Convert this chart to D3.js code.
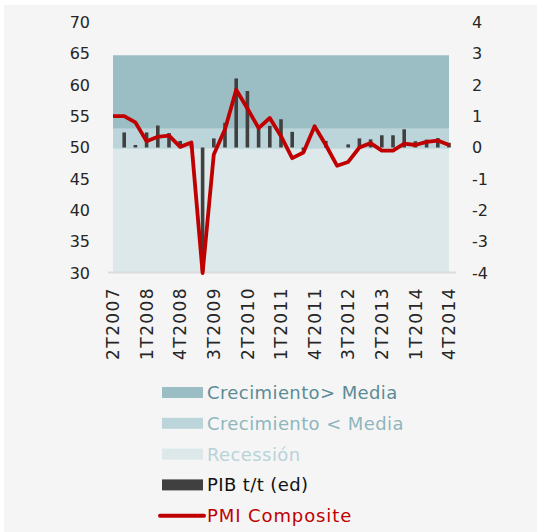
<!DOCTYPE html>
<html><head><meta charset="utf-8">
<script src="https://cdn.jsdelivr.net/npm/d3@7/dist/d3.min.js"></script>
<style>
html,body{margin:0;padding:0;background:#ffffff;}
svg{display:block;}
text{font-family:"DejaVu Sans",sans-serif;}
</style></head>
<body><svg id="c" width="542" height="532"></svg>
<script>
const quarters = ["2T2007","3T2007","4T2007","1T2008","2T2008","3T2008","4T2008","1T2009","2T2009","3T2009","4T2009","1T2010","2T2010","3T2010","4T2010","1T2011","2T2011","3T2011","4T2011","1T2012","2T2012","3T2012","4T2012","1T2013","2T2013","3T2013","4T2013","1T2014","2T2014","3T2014","4T2014"];
const tickLabels = ["2T2007","1T2008","4T2008","3T2009","2T2010","1T2011","4T2011","3T2012","2T2013","1T2014","4T2014"];
const pmi = [55.0,55.0,54.0,51.0,51.7,51.9,50.1,50.8,30.0,48.9,52.9,59.2,56.2,53.1,54.7,51.8,48.3,49.2,53.4,50.4,47.1,47.7,50.0,50.7,49.5,49.5,50.6,50.4,50.9,51.1,50.4];
const pib = [0,0.48,0.08,0.48,0.70,0.46,0.21,0.1,-3.95,0.29,0.79,2.2,1.8,0.65,0.69,0.9,0.5,-0.1,0,0.21,0,0.1,0.29,0.26,0.39,0.39,0.58,0.2,0.25,0.3,0.15];
const leftTicks = [30,35,40,45,50,55,60,65,70];
const rightTicks = [-4,-3,-2,-1,0,1,2,3,4];
const bandNames = ["Recessión","Crecimiento < Media","Crecimiento> Media"];
const bandLimits = [30, 49.8, 53.0, 64.7];
const legendNames = ["Crecimiento> Media","Crecimiento < Media","Recessión","PIB t/t (ed)","PMI Composite"];

const bandColors = {"Recessión":"#dde8ea","Crecimiento < Media":"#bcd5da","Crecimiento> Media":"#9bbdc4"};
const legendText = ["#5b8c96","#8fb6bd","#b8d3d8","#111111","#c00000"];

const svg = d3.select("#c");
svg.append("rect").attr("x",4).attr("y",5).attr("width",533).attr("height",527).attr("fill","#f5f5f5");

const x = d3.scalePoint().domain(quarters).range([113,449]);
const yL = d3.scaleLinear().domain([30,70]).range([273,22]);
const yR = d3.scaleLinear().domain([-4,4]).range([273,22]);

// bands
bandNames.forEach((n,i)=>{
  svg.append("rect").attr("x",x(quarters[0])).attr("width",x(quarters[quarters.length-1])-x(quarters[0]))
    .attr("y",yL(bandLimits[i+1])).attr("height",yL(bandLimits[i])-yL(bandLimits[i+1]))
    .attr("fill",bandColors[n]);
});
// x axis line
svg.append("line").attr("x1",108).attr("x2",456).attr("y1",272.5).attr("y2",272.5)
  .attr("stroke","#dcdcdc").attr("stroke-width",2);

// bars
const bw = 3.6;
svg.selectAll(".bar").data(pib).enter().append("rect")
  .attr("x",(d,i)=>x(quarters[i])-bw/2).attr("width",bw)
  .attr("y",d=>Math.min(yR(d),yR(0))).attr("height",d=>Math.abs(yR(d)-yR(0)))
  .attr("fill","#404040");

// line
svg.append("path").datum(pmi)
  .attr("d",d3.line().x((d,i)=>x(quarters[i])).y(d=>yL(d)))
  .attr("fill","none").attr("stroke","#c00000").attr("stroke-width",3.8).attr("stroke-linejoin","round");

// left axis labels
svg.selectAll(".lt").data(leftTicks).enter().append("text")
  .attr("x",90).attr("y",d=>yL(d)).attr("dy","0.36em").attr("text-anchor","end")
  .attr("font-size",16).attr("fill","#262626").text(d=>d);
// right axis labels
svg.selectAll(".rt").data(rightTicks).enter().append("text")
  .attr("x",472).attr("y",d=>yR(d)).attr("dy","0.36em").attr("text-anchor","start")
  .attr("font-size",16).attr("fill","#262626").text(d=>d);
// x labels
svg.selectAll(".xt").data(tickLabels).enter().append("text")
  .attr("transform",d=>`translate(${x(d)},287) rotate(-90)`).attr("dy","0.36em")
  .attr("text-anchor","end").attr("font-size",17).attr("letter-spacing",1.4)
  .attr("fill","#262626").text(d=>d);

// legend
const ly0 = 392.5, lstep = 30.8;
legendNames.forEach((n,i)=>{
  const y = ly0 + i*lstep;
  if(i<4){
    svg.append("rect").attr("x",162).attr("y",y-5.5).attr("width",41).attr("height",11)
      .attr("fill", i<3 ? bandColors[n] : "#404040");
  } else {
    svg.append("line").attr("x1",160).attr("x2",204).attr("y1",y).attr("y2",y)
      .attr("stroke","#c00000").attr("stroke-width",4).attr("stroke-linecap","round");
  }
  svg.append("text").attr("x",207).attr("y",y).attr("dy","0.36em")
    .attr("font-size",18).attr("letter-spacing", i===4 ? 0.9 : 0.4)
    .attr("fill",legendText[i]).text(n);
});
</script></body></html>
